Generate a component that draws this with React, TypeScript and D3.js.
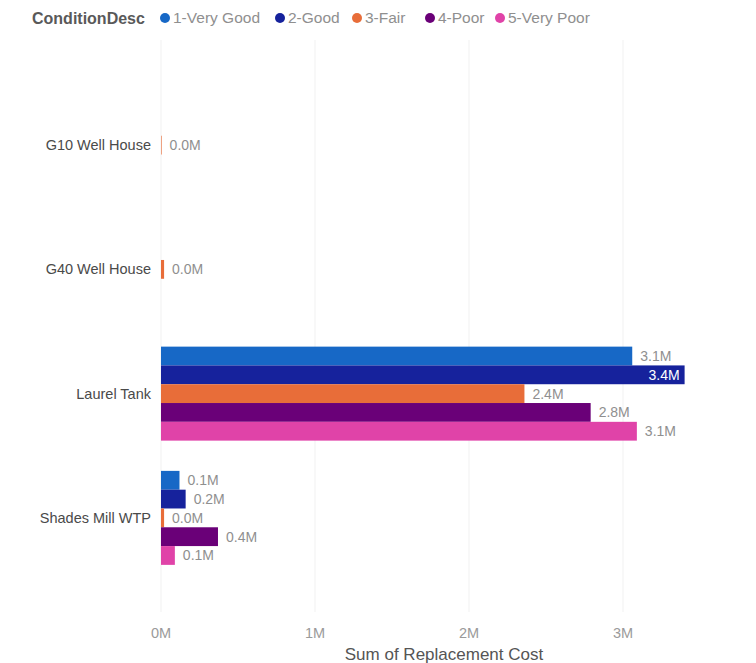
import React from "react";
import * as d3 from "d3";

const categories = ["G10 Well House", "G40 Well House", "Laurel Tank", "Shades Mill WTP"];
const seriesNames = ["1-Very Good", "2-Good", "3-Fair", "4-Poor", "5-Very Poor"];
const seriesColors = ["#1768C6", "#16229C", "#E86D39", "#6A0078", "#E043A8"];
// values in millions, per category, per series (null = no bar)
const veryGood = [null, null, 3.06, 0.12];
const good = [null, null, 3.4, 0.16];
const fair = [0.004, 0.02, 2.36, 0.02];
const poor = [null, null, 2.79, 0.37];
const veryPoor = [null, null, 3.09, 0.09];
const seriesValues = [veryGood, good, fair, poor, veryPoor];
const xTicks = [0, 1, 2, 3];
const legendTitle = "ConditionDesc";
const axisTitle = "Sum of Replacement Cost";

const W = 756;
const H = 663;
const FONT = "'Liberation Sans', Arial, sans-serif";

export default function App() {
  const x = d3.scaleLinear().domain([0, 3.4]).range([161, 161 + 3.4 * 154]);
  const y = d3
    .scaleBand<string>()
    .domain(categories)
    .range([83, 580])
    .paddingInner(0.2435)
    .paddingOuter(0.2435 / 2);
  const inner = d3.scaleBand<string>().domain(seriesNames).range([0, y.bandwidth()]).padding(0);
  const fmt = (v: number) => d3.format(".1f")(v) + "M";

  const legendX = [165, 280, 357, 430, 500];

  return (
    <svg width={W} height={H} style={{ position: "absolute", left: 0, top: 0, background: "#fff" }}>
      {/* legend */}
      <text x={32} y={18} dy="0.35em" fontFamily={FONT} fontSize={16} fontWeight="bold" fill="#595959">
        {legendTitle}
      </text>
      {seriesNames.map((s, i) => (
        <g key={s}>
          <circle cx={legendX[i]} cy={18} r={5} fill={seriesColors[i]} />
          <text x={legendX[i] + 8} y={18} dy="0.35em" fontFamily={FONT} fontSize={15.5} fill="#8f8f8f">
            {s}
          </text>
        </g>
      ))}
      {/* gridlines */}
      {xTicks.map((t) => (
        <line key={t} x1={x(t)} x2={x(t)} y1={40} y2={612} stroke="#f1f1f1" strokeWidth={1} />
      ))}
      {/* bars */}
      {categories.map((c, ci) => (
        <g key={c}>
          <text
            x={151}
            y={(y(c) as number) + y.bandwidth() / 2}
            dy="0.35em"
            textAnchor="end"
            fontFamily={FONT}
            fontSize={14.5}
            fill="#4a4a4a"
          >
            {c}
          </text>
          {seriesNames.map((s, si) => {
            const v = seriesValues[si][ci];
            if (v === null || v === undefined) return null;
            const y0 = (y(c) as number) + (inner(s) as number);
            const bh = inner.bandwidth();
            const xe = x(v);
            const inside = xe > 670;
            return (
              <g key={s}>
                <rect x={x(0)} y={y0} width={Math.max(0, xe - x(0))} height={bh} fill={seriesColors[si]} />
                <text
                  x={inside ? xe - 5 : xe + 8}
                  y={y0 + bh / 2}
                  dy="0.35em"
                  textAnchor={inside ? "end" : "start"}
                  fontFamily={FONT}
                  fontSize={14}
                  fill={inside ? "#fff" : "#8f8f8f"}
                >
                  {fmt(v)}
                </text>
              </g>
            );
          })}
        </g>
      ))}
      {/* x axis */}
      {xTicks.map((t) => (
        <text key={t} x={x(t)} y={633} dy="0.35em" textAnchor="middle" fontFamily={FONT} fontSize={14.5} fill="#9a9a9a">
          {t + "M"}
        </text>
      ))}
      <text x={444} y={654} dy="0.35em" textAnchor="middle" fontFamily={FONT} fontSize={17} fill="#555">
        {axisTitle}
      </text>
    </svg>
  );
}
